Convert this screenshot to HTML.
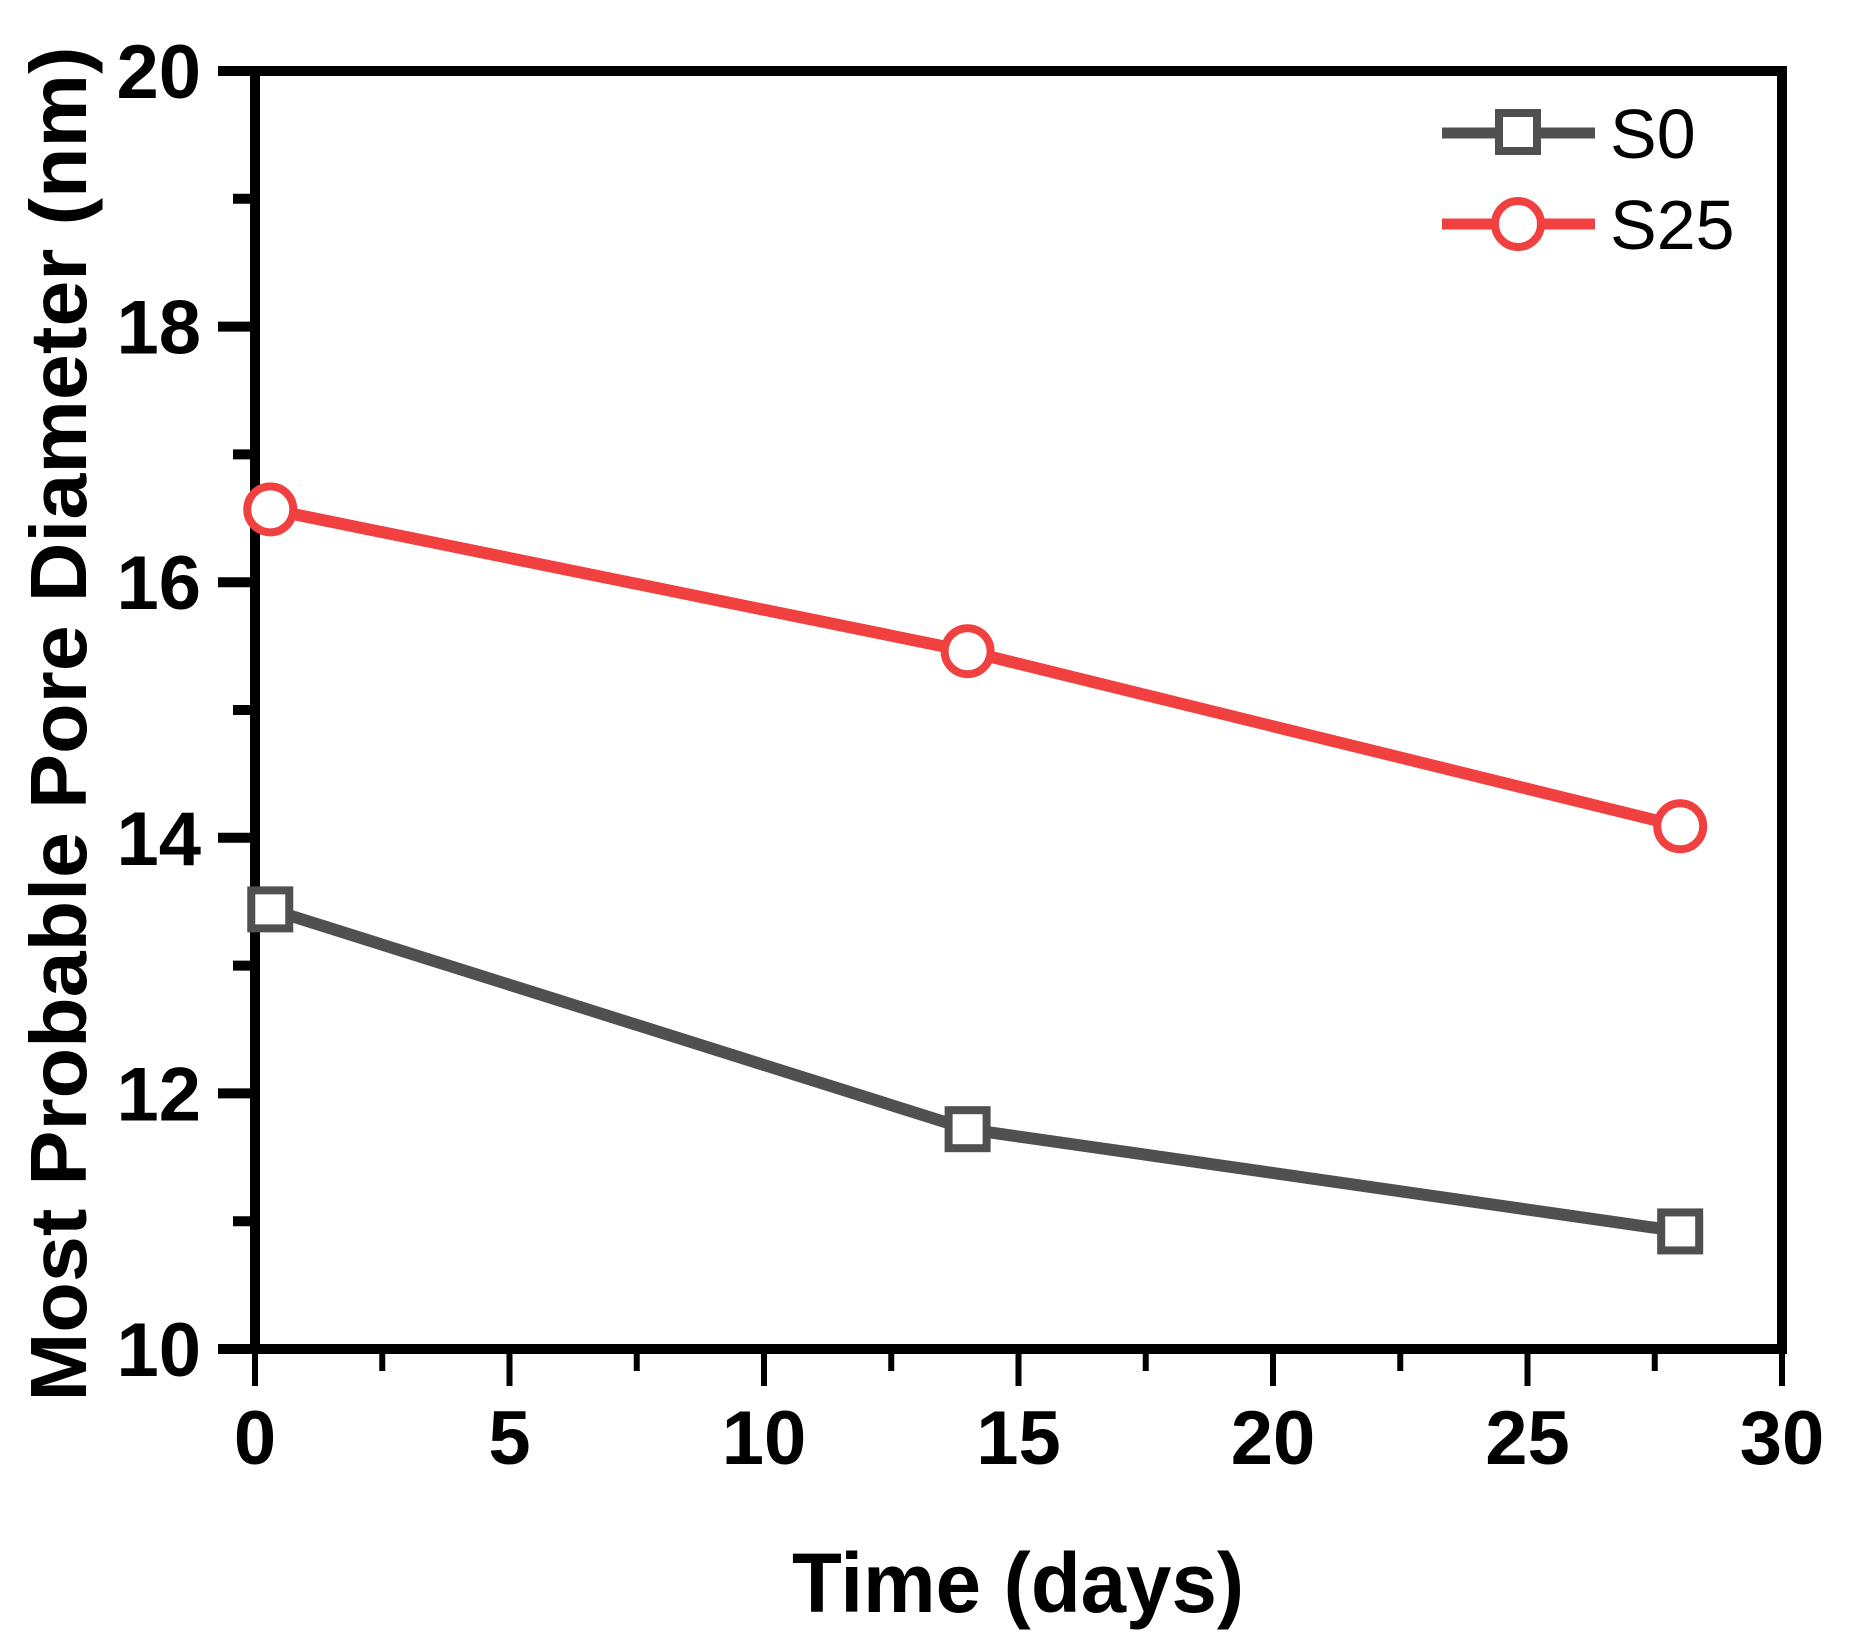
<!DOCTYPE html>
<html><head><meta charset="utf-8"><style>
html,body{margin:0;padding:0;background:#fff;}
svg{display:block;}
text{font-family:"Liberation Sans",Arial,sans-serif;}
</style></head><body>
<svg id="chart" width="1860" height="1650" viewBox="0 0 1860 1650" xmlns="http://www.w3.org/2000/svg">
<g id="axes"></g>
<g id="series"></g>
<g id="legend"></g>
</svg>
<script>
const xTicks = [0, 5, 10, 15, 20, 25, 30];
const yTicks = [10, 12, 14, 16, 18, 20];
const s0Days = [0.3, 14, 28];
const s0Values = [13.44, 11.72, 10.92];
const s25Days = [0.3, 14, 28];
const s25Values = [16.57, 15.46, 14.09];

const NS = 'http://www.w3.org/2000/svg';
const X0 = 255, X1 = 1782, Y0 = 1349, Y1 = 71;
function sx(d){ return X0 + (d - 0) / 30 * (X1 - X0); }
function sy(v){ return Y0 - (v - 10) / 10 * (Y0 - Y1); }
function mk(tag, attrs, parent){
  const e = document.createElementNS(NS, tag);
  for (const k in attrs) e.setAttribute(k, attrs[k]);
  parent.appendChild(e);
  return e;
}
const axes = document.getElementById('axes');
const series = document.getElementById('series');
const legend = document.getElementById('legend');

let fr = mk('rect', {x:X0, y:Y1, width:X1-X0, height:Y0-Y1, fill:'none', stroke:'#000', 'stroke-width':10}, axes);



for (let i = 0; i < xTicks.length; i++) {
  const t = xTicks[i];
  const x = sx(t);
  let tk = mk('line', {x1:x, y1:Y0, x2:x, y2:Y0+37, stroke:'#000', 'stroke-width':6}, axes);
  
  
  let lb = mk('text', {x:x, y:1464, 'text-anchor':'middle', 'font-size':76, 'font-weight':'bold'}, axes);
  lb.textContent = t;
  
  
  if (i < xTicks.length - 1) {
    const xm = sx(t + 2.5);
    let mn = mk('line', {x1:xm, y1:Y0, x2:xm, y2:Y0+22, stroke:'#000', 'stroke-width':6}, axes);
    
    
  }
}
for (let i = 0; i < yTicks.length; i++) {
  const t = yTicks[i];
  const y = sy(t);
  let tk = mk('line', {x1:X0, y1:y, x2:X0-37, y2:y, stroke:'#000', 'stroke-width':10}, axes);
  
  
  let lb = mk('text', {x:201, y:y+27, 'text-anchor':'end', 'font-size':76, 'font-weight':'bold'}, axes);
  lb.textContent = t;
  
  
  if (i < yTicks.length - 1) {
    const ym = sy(t + 1);
    let mn = mk('line', {x1:X0, y1:ym, x2:X0-22, y2:ym, stroke:'#000', 'stroke-width':10}, axes);
    
    
  }
}
let xt = mk('text', {x:1018, y:1612, 'text-anchor':'middle', 'font-size':84, 'font-weight':'bold', textLength:452, lengthAdjust:'spacingAndGlyphs'}, axes);
xt.textContent = 'Time (days)';


let yt = mk('text', {x:0, y:0, 'text-anchor':'middle', 'font-size':80, 'font-weight':'bold', textLength:1355, lengthAdjust:'spacingAndGlyphs', transform:'translate(86,724) rotate(-90)'}, axes);
yt.textContent = 'Most Probable Pore Diameter (nm)';



function drawSeries(days, vals, color, shape, name){
  const pts = days.map((d, i) => sx(d) + ',' + sy(vals[i])).join(' ');
  let pl = mk('polyline', {points:pts, fill:'none', stroke:color, 'stroke-width':12, 'stroke-linejoin':'round'}, series);
  
  
  for (let i = 0; i < days.length; i++) {
    const x = sx(days[i]), y = sy(vals[i]);
    let m;
    if (shape === 'square') m = mk('rect', {x:x-19, y:y-19, width:38, height:38, fill:'#fff', stroke:color, 'stroke-width':8}, series);
    else m = mk('circle', {cx:x, cy:y, r:23, fill:'#fff', stroke:color, 'stroke-width':8}, series);
    
    
  }
}
drawSeries(s0Days, s0Values, '#505050', 'square', 's0');
drawSeries(s25Days, s25Values, '#F04040', 'circle', 's25');

function legendEntry(y, color, shape, label, name){
  let ln = mk('line', {x1:1442, y1:y, x2:1595, y2:y, stroke:color, 'stroke-width':11}, legend);
  
  
  let m;
  if (shape === 'square') m = mk('rect', {x:1499, y:y-20, width:38, height:38, fill:'#fff', stroke:color, 'stroke-width':8}, legend);
  else m = mk('circle', {cx:1518, cy:y, r:23, fill:'#fff', stroke:color, 'stroke-width':8}, legend);
  
  
  let t = mk('text', {x:1610, y:y+25, 'font-size':70}, legend);
  t.textContent = label;
  
  
}
legendEntry(133, '#505050', 'square', 'S0', 's0');
legendEntry(224, '#F04040', 'circle', 'S25', 's25');
</script>
</body></html>
